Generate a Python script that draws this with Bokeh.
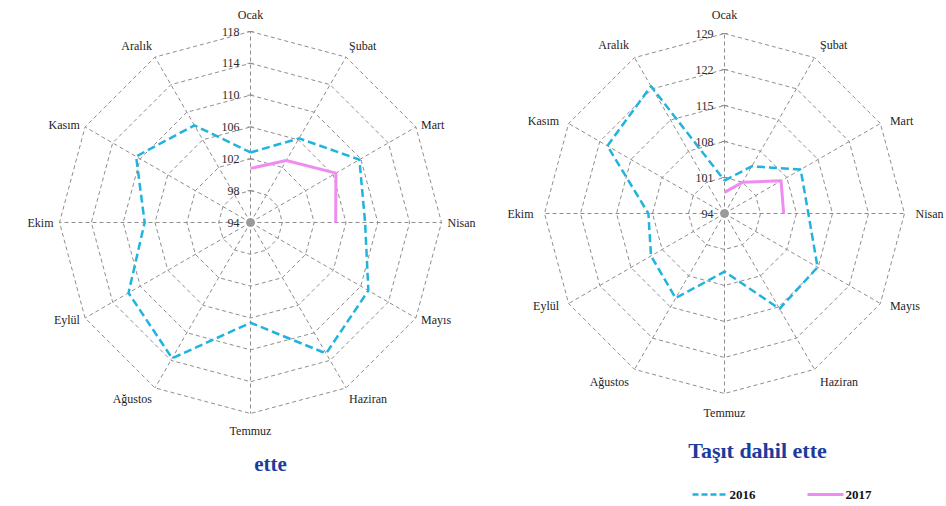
import numpy as np
from bokeh.plotting import figure
from bokeh.models import Range1d
from bokeh.core.properties import value
from bokeh.embed import file_html
from bokeh.resources import INLINE

# ---------------- data ----------------
months = ["Ocak", "Şubat", "Mart", "Nisan", "Mayıs", "Haziran",
          "Temmuz", "Ağustos", "Eylül", "Ekim", "Kasım", "Aralık"]

left_ticks = [94, 98, 102, 106, 110, 114, 118]
left_2016 = [102.8, 106.2, 109.8, 108.4, 111.1, 113.0, 106.6, 113.7, 111.7, 107.3, 110.6, 108.1]
left_2017 = [100.8, 103.0, 106.4, 104.7]
left_title = "ette"

right_ticks = [94, 101, 108, 115, 122, 129]
right_2016 = [100.4, 104.6, 111.1, 110.3, 114.9, 115.4, 105.3, 113.0, 110.5, 108.8, 120.3, 122.6]
right_2017 = [98.1, 101.0, 106.7, 105.5]
right_title = "Taşıt dahil ette"

series_names = ["2016", "2017"]

# ---------------- style ----------------
SERIF = value("Liberation Serif")
GRID = "#8e8e8e"
C2016 = "#1fb4e0"
C2017 = "#f08cf0"
TITLE_C = "#1c3c9c"

PAGE_H = 506

p = figure(width=946, height=506, x_range=Range1d(0, 946), y_range=Range1d(0, 506),
           output_backend="svg", toolbar_location=None,
           x_axis_location=None, y_axis_location=None, min_border=0)
p.grid.visible = False
p.outline_line_color = None
p.background_fill_color = "white"


def radar(cx, cy_px, R, ticks, s2016, s2017, lab_dx, lab_dy):
    cy = PAGE_H - cy_px
    n = len(months)
    ang = np.arange(n) * 2 * np.pi / n
    lo, hi = ticks[0], ticks[-1]

    def rad(vals):
        return (np.asarray(vals, float) - lo) / (hi - lo) * R

    def pts(vals):
        r = rad(vals)
        a = ang[:len(vals)]
        return list(cx + r * np.sin(a)), list(cy + r * np.cos(a))

    # rings
    ring_xs, ring_ys = [], []
    for t in ticks[1:]:
        xs, ys = pts([t] * n)
        ring_xs.append(xs + [xs[0]])
        ring_ys.append(ys + [ys[0]])
    p.multi_line(ring_xs, ring_ys, line_color=GRID, line_width=1, line_dash="4 3")

    # spokes
    ex, ey = pts([hi] * n)
    p.multi_line([[cx, x] for x in ex], [[cy, y] for y in ey],
                 line_color=GRID, line_width=1, line_dash="4 3")

    # tick marks & tick labels on the first spoke (Ocak)
    ty = list(cy + rad(ticks))
    k = len(ticks)
    p.segment(x0=[cx - 3] * k, y0=ty, x1=[cx + 3] * k, y1=ty,
              line_color=GRID, line_width=1)
    p.text(x=[cx - 11] * k, y=ty, text=[str(t) for t in ticks],
           text_align="right", text_baseline="middle", text_font=SERIF,
           text_font_size=value("12px"), text_color="#2a2a2a")

    # month labels
    s, c = np.sin(ang), np.cos(ang)
    lx = [x + lab_dx * si for x, si in zip(ex, s)]
    ly = [y + lab_dy * np.sign(ci) * abs(ci) ** 3 for y, ci in zip(ey, c)]
    for X, Y, t, si in zip(lx, ly, months, s):
        align = "left" if si > 0.1 else ("right" if si < -0.1 else "center")
        p.text(x=[X], y=[Y], text=[t], text_align=align, text_baseline="middle",
               text_font=SERIF, text_font_size=value("12px"), text_color="#1e1e1e")

    # center dot
    p.scatter(x=[cx], y=[cy], size=8, color="#9a9a9a")

    # series
    x6, y6 = pts(s2016)
    p.line(x6 + [x6[0]], y6 + [y6[0]], line_color=C2016, line_width=2.5, line_dash="8 4")
    x7, y7 = pts(s2017)
    p.line(x7, y7, line_color=C2017, line_width=3)


radar(250, 222, 191, left_ticks, left_2016, left_2017, 6, 17)
radar(724, 213, 180, right_ticks, right_2016, right_2017, 11, 19)

# titles
p.text(x=[270], y=[PAGE_H - 463], text=[left_title], text_align="center", text_baseline="middle",
       text_font=SERIF, text_font_size=value("21px"), text_font_style="bold", text_color=TITLE_C)
p.text(x=[757], y=[PAGE_H - 450], text=[right_title], text_align="center", text_baseline="middle",
       text_font=SERIF, text_font_size=value("22px"), text_font_style="bold", text_color=TITLE_C)

# legend
ly = PAGE_H - 494
p.line([692, 727], [ly, ly], line_color=C2016, line_width=2.5, line_dash="6 3")
p.text(x=[729], y=[ly], text=[series_names[0]], text_align="left", text_baseline="middle",
       text_font=SERIF, text_font_size=value("13px"), text_font_style="bold", text_color="#111111")
p.line([807, 843], [ly, ly], line_color=C2017, line_width=3)
p.text(x=[845], y=[ly], text=[series_names[1]], text_align="left", text_baseline="middle",
       text_font=SERIF, text_font_size=value("13px"), text_font_style="bold", text_color="#111111")

open("out.html", "w").write(file_html(p, INLINE))
